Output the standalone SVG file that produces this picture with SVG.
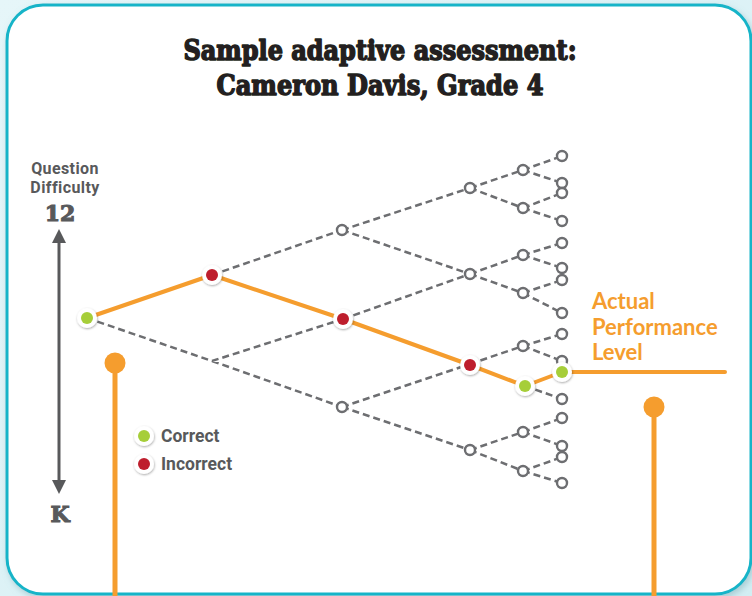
<svg xmlns="http://www.w3.org/2000/svg" width="752" height="596" viewBox="0 0 752 596">
  <defs>
    <linearGradient id="bg" x1="0" y1="0" x2="1" y2="1">
      <stop offset="0" stop-color="#e6f6f9"/>
      <stop offset="1" stop-color="#d3eef3"/>
    </linearGradient>
    <filter id="shadow" x="-40%" y="-40%" width="180%" height="180%">
      <feDropShadow dx="0.5" dy="1" stdDeviation="1.2" flood-color="#000" flood-opacity="0.35"/>
    </filter>
    <filter id="boxShadow" x="-5%" y="-5%" width="110%" height="110%">
      <feDropShadow dx="2" dy="3" stdDeviation="3" flood-color="#7aa9b3" flood-opacity="0.5"/>
    </filter>
    <g id="correct">
      <circle r="10" fill="#fff" filter="url(#shadow)"/>
      <circle r="6" fill="#a6ce39"/>
    </g>
    <g id="incorrect">
      <circle r="10" fill="#fff" filter="url(#shadow)"/>
      <circle r="6" fill="#be1e2d"/>
    </g>
  </defs>
  <style>
    .dash { fill: none; stroke: #6d6e71; stroke-width: 2.5; stroke-dasharray: 7 4; }
    .open { fill: #fff; stroke: #6d6e71; stroke-width: 2.4; }
    .path { fill: none; stroke: #f59d2e; stroke-width: 4; stroke-linejoin: round; stroke-linecap: round; }
    .pin { fill: none; stroke: #f59d2e; stroke-width: 5; }
    .pinHead { fill: #f59d2e; }
    .title { font-family: "DejaVu Serif", "Liberation Serif", serif; font-weight: bold; font-size: 27px; fill: #231f20; stroke: #231f20; stroke-width: 1.5; stroke-linejoin: round; text-anchor: middle; }
    .axis { font-family: "Roboto", "DejaVu Sans", sans-serif; font-weight: bold; font-size: 16px; letter-spacing: 0.4px; fill: #58595b; text-anchor: middle; }
    .axisEnd { font-family: "DejaVu Serif", "Liberation Serif", serif; font-weight: bold; font-size: 22px; fill: #58595b; stroke: #58595b; stroke-width: 1.1; text-anchor: middle; }
    .legend { font-family: "Roboto", "DejaVu Sans", sans-serif; font-weight: bold; font-size: 17.5px; fill: #58595b; }
    .level { font-family: "Lato", "Open Sans", sans-serif; font-weight: bold; font-size: 22px; fill: #f59d2e; }
  </style>

  <!-- backdrop and card -->
  <rect x="0" y="0" width="752" height="596" fill="url(#bg)"/>
  <rect x="7" y="5" width="744" height="589" rx="36" ry="36" fill="#fff" stroke="#17b4c8" stroke-width="3" filter="url(#boxShadow)"/>

  <!-- title -->
  <g id="title">
    <text class="title" x="380" y="60" textLength="393" lengthAdjust="spacingAndGlyphs">Sample adaptive assessment:</text>
    <text class="title" x="380" y="95" textLength="327" lengthAdjust="spacingAndGlyphs">Cameron Davis, Grade 4</text>
  </g>

  <!-- difficulty axis -->
  <g id="axis">
    <text class="axis" x="65" y="174">Question</text>
    <text class="axis" x="65" y="193">Difficulty</text>
    <text class="axisEnd" x="60" y="221">12</text>
    <line x1="59" y1="240" x2="59" y2="483" stroke="#58595b" stroke-width="3"/>
    <polygon points="59,229 66,243 52,243" fill="#58595b"/>
    <polygon points="59,494 66,480 52,480" fill="#58595b"/>
    <text class="axisEnd" x="60" y="522">K</text>
  </g>

  <!-- orange pins -->
  <g id="pin-left">
    <line class="pin" x1="115" y1="363" x2="115" y2="596"/>
    <circle class="pinHead" cx="115" cy="363" r="10.5"/>
  </g>
  <g id="pin-right">
    <line class="pin" x1="654" y1="407" x2="654" y2="596"/>
    <circle class="pinHead" cx="654" cy="407" r="10.5"/>
  </g>

  <!-- connectors -->
  <g id="connectors">
    <!-- level 0 to 2 -->
    <path class="dash" d="M87,318 L212,361 L343,319 M212,361 L342,407"/>
    <path class="dash" d="M212,275 L342,230"/>
    <!-- level 2 to 3 -->
    <path class="dash" d="M342,230 L470,188 M342,230 L470,274 M343,319 L470,274 M342,407 L470,364 M342,407 L470,450"/>
    <!-- level 3 to 4 -->
    <path class="dash" d="M470,188 L523,170 M470,188 L523,208 M470,274 L523,255 M470,274 L523,293 M470,364 L523,346 M470,450 L523,432 M470,450 L523,471"/>
    <!-- level 4 to 5 -->
    <path class="dash" d="M523,170 L562,156 M523,170 L562,183 M523,208 L562,193 M523,208 L562,221 M523,255 L562,243 M523,255 L562,268 M523,293 L562,280 M523,293 L562,313 M523,346 L562,334 M523,346 L562,361 M525,386 L562,399 M523,432 L562,418 M523,432 L562,446 M523,471 L562,457 M523,471 L562,483"/>
    <!-- answered path -->
    <path class="path" d="M87,318 L212,275 L343,319 L470,365 L525,386 L562,372 L725,372"/>
  </g>

  <!-- unanswered question nodes -->
  <g id="open-nodes">
    <circle class="open" cx="342" cy="230" r="5"/>
    <circle class="open" cx="342" cy="407" r="5"/>
    <circle class="open" cx="470" cy="188" r="5"/>
    <circle class="open" cx="470" cy="274" r="5"/>
    <circle class="open" cx="470" cy="450" r="5"/>
    <circle class="open" cx="523" cy="170" r="5"/>
    <circle class="open" cx="523" cy="208" r="5"/>
    <circle class="open" cx="523" cy="255" r="5"/>
    <circle class="open" cx="523" cy="293" r="5"/>
    <circle class="open" cx="523" cy="346" r="5"/>
    <circle class="open" cx="523" cy="432" r="5"/>
    <circle class="open" cx="523" cy="471" r="5"/>
    <circle class="open" cx="562" cy="156" r="5"/>
    <circle class="open" cx="562" cy="183" r="5"/>
    <circle class="open" cx="562" cy="193" r="5"/>
    <circle class="open" cx="562" cy="221" r="5"/>
    <circle class="open" cx="562" cy="243" r="5"/>
    <circle class="open" cx="562" cy="268" r="5"/>
    <circle class="open" cx="562" cy="280" r="5"/>
    <circle class="open" cx="562" cy="313" r="5"/>
    <circle class="open" cx="562" cy="334" r="5"/>
    <circle class="open" cx="562" cy="361" r="5"/>
    <circle class="open" cx="562" cy="399" r="5"/>
    <circle class="open" cx="562" cy="418" r="5"/>
    <circle class="open" cx="562" cy="446" r="5"/>
    <circle class="open" cx="562" cy="457" r="5"/>
    <circle class="open" cx="562" cy="483" r="5"/>
  </g>

  <!-- answered question nodes -->
  <g id="q1"><use href="#correct" x="87" y="318"/></g>
  <g id="q2"><use href="#incorrect" x="212" y="275"/></g>
  <g id="q3"><use href="#incorrect" x="343" y="319"/></g>
  <g id="q4"><use href="#incorrect" x="470" y="365"/></g>
  <g id="q5"><use href="#correct" x="525" y="386"/></g>
  <g id="q6"><use href="#correct" x="562" y="372"/></g>

  <!-- result label -->
  <g id="level-label">
    <text class="level" x="592" y="309">Actual</text>
    <text class="level" x="592" y="335">Performance</text>
    <text class="level" x="592" y="360">Level</text>
  </g>

  <!-- legend -->
  <g id="legend">
    <use href="#correct" x="144" y="436"/>
    <text class="legend" x="161" y="442">Correct</text>
    <use href="#incorrect" x="144" y="464"/>
    <text class="legend" x="161" y="470">Incorrect</text>
  </g>
</svg>
